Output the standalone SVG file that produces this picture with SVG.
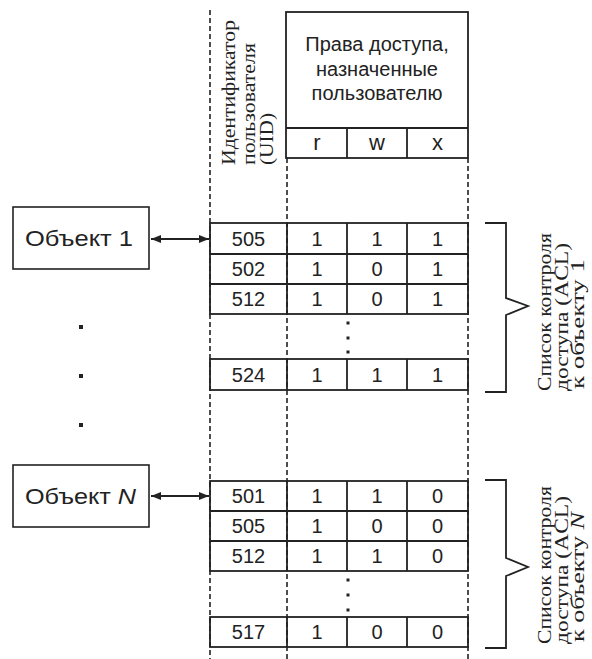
<svg xmlns="http://www.w3.org/2000/svg" width="592" height="659" viewBox="0 0 592 659">
<defs>
<style>
.ln{stroke:#222;stroke-width:1.8;fill:none}
.dash{stroke:#222;stroke-width:1.6;fill:none;stroke-dasharray:5 3}
.box{stroke:#222;stroke-width:1.6;fill:#fff}
.sans{font-family:"Liberation Sans",Arial,sans-serif;fill:#222}
.serif{font-family:"Liberation Serif","Times New Roman",serif;fill:#222;font-size:19px}
.num{font-family:"Liberation Sans",Arial,sans-serif;fill:#222;font-size:20px;text-anchor:middle}
.dot{fill:#222}
</style>
<marker id="ah" viewBox="0 0 10 8" refX="10" refY="4" markerWidth="10" markerHeight="8" markerUnits="userSpaceOnUse" orient="auto-start-reverse">
<path d="M0,0 L10,4 L0,8 z" fill="#222"/>
</marker>
</defs>
<rect width="592" height="659" fill="#fff"/>

<g id="guides">
<line class="dash" x1="210" y1="10" x2="210" y2="659"/>
<line class="dash" x1="287" y1="158" x2="287" y2="659"/>
<line class="dash" x1="468" y1="158" x2="468" y2="659"/>
</g>

<g id="uid-header">
<text class="serif" transform="translate(235,165) rotate(-90)" textLength="145" lengthAdjust="spacingAndGlyphs">Идентификатор</text>
<text class="serif" transform="translate(255,165) rotate(-90)" textLength="122" lengthAdjust="spacingAndGlyphs">пользователя</text>
<text class="serif" transform="translate(273,165) rotate(-90)" textLength="52" lengthAdjust="spacingAndGlyphs">(UID)</text>
</g>

<g id="rights-header">
<rect class="ln" x="286" y="12" width="182" height="146" fill="#fff"/>
<line class="ln" x1="286" y1="128" x2="468" y2="128"/>
<line class="ln" x1="347" y1="128" x2="347" y2="158"/>
<line class="ln" x1="407" y1="128" x2="407" y2="158"/>
<text class="sans" font-size="20" text-anchor="middle" x="377" y="51">Права доступа,</text>
<text class="sans" font-size="20" text-anchor="middle" x="377" y="76">назначенные</text>
<text class="sans" font-size="20" text-anchor="middle" x="377" y="100">пользователю</text>
<text class="sans" font-size="22" text-anchor="middle" x="317" y="150">r</text>
<text class="sans" font-size="22" text-anchor="middle" x="377" y="150">w</text>
<text class="sans" font-size="22" text-anchor="middle" x="437.5" y="150">x</text>
</g>

<g id="object1">
<rect class="box" x="13" y="207" width="136" height="62"/>
<text class="sans" font-size="22" x="25" y="246" textLength="108" lengthAdjust="spacingAndGlyphs">Объект 1</text>
</g>

<g id="objectN">
<rect class="box" x="13" y="465" width="136" height="62"/>
<text class="sans" font-size="22" x="25" y="504" textLength="111" lengthAdjust="spacingAndGlyphs">Объект <tspan font-style="italic">N</tspan></text>
</g>

<g id="acl1">
<rect class="ln" x="210" y="223" width="258" height="91" fill="#fff"/>
<line class="ln" x1="210" y1="254" x2="468" y2="254"/>
<line class="ln" x1="210" y1="284" x2="468" y2="284"/>
<line class="ln" x1="287" y1="223" x2="287" y2="314"/>
<line class="ln" x1="347" y1="223" x2="347" y2="314"/>
<line class="ln" x1="407" y1="223" x2="407" y2="314"/>
<text class="num" x="248.5" y="246">505</text><text class="num" x="317" y="246">1</text><text class="num" x="377" y="246">1</text><text class="num" x="437.5" y="246">1</text>
<text class="num" x="248.5" y="276">502</text><text class="num" x="317" y="276">1</text><text class="num" x="377" y="276">0</text><text class="num" x="437.5" y="276">1</text>
<text class="num" x="248.5" y="306">512</text><text class="num" x="317" y="306">1</text><text class="num" x="377" y="306">0</text><text class="num" x="437.5" y="306">1</text>
<rect class="dot" x="346.5" y="321.5" width="3" height="3"/>
<rect class="dot" x="346.5" y="336.5" width="3" height="3"/>
<rect class="dot" x="346.5" y="350.5" width="3" height="3"/>
<rect class="ln" x="210" y="359" width="258" height="31" fill="#fff"/>
<line class="ln" x1="287" y1="359" x2="287" y2="390"/>
<line class="ln" x1="347" y1="359" x2="347" y2="390"/>
<line class="ln" x1="407" y1="359" x2="407" y2="390"/>
<text class="num" x="248.5" y="382">524</text><text class="num" x="317" y="382">1</text><text class="num" x="377" y="382">1</text><text class="num" x="437.5" y="382">1</text>
</g>

<g id="aclN">
<rect class="ln" x="210" y="481" width="258" height="90" fill="#fff"/>
<line class="ln" x1="210" y1="511" x2="468" y2="511"/>
<line class="ln" x1="210" y1="541" x2="468" y2="541"/>
<line class="ln" x1="287" y1="481" x2="287" y2="571"/>
<line class="ln" x1="347" y1="481" x2="347" y2="571"/>
<line class="ln" x1="407" y1="481" x2="407" y2="571"/>
<text class="num" x="248.5" y="503">501</text><text class="num" x="317" y="503">1</text><text class="num" x="377" y="503">1</text><text class="num" x="437.5" y="503">0</text>
<text class="num" x="248.5" y="533">505</text><text class="num" x="317" y="533">1</text><text class="num" x="377" y="533">0</text><text class="num" x="437.5" y="533">0</text>
<text class="num" x="248.5" y="563">512</text><text class="num" x="317" y="563">1</text><text class="num" x="377" y="563">1</text><text class="num" x="437.5" y="563">0</text>
<rect class="dot" x="346.5" y="578.5" width="3" height="3"/>
<rect class="dot" x="346.5" y="593.5" width="3" height="3"/>
<rect class="dot" x="346.5" y="608.5" width="3" height="3"/>
<rect class="ln" x="210" y="617" width="258" height="30" fill="#fff"/>
<line class="ln" x1="287" y1="617" x2="287" y2="647"/>
<line class="ln" x1="347" y1="617" x2="347" y2="647"/>
<line class="ln" x1="407" y1="617" x2="407" y2="647"/>
<text class="num" x="248.5" y="639">517</text><text class="num" x="317" y="639">1</text><text class="num" x="377" y="639">0</text><text class="num" x="437.5" y="639">0</text>
</g>

<g id="ellipsis">
<rect class="dot" x="79" y="325" width="4" height="4"/>
<rect class="dot" x="79" y="374" width="4" height="4"/>
<rect class="dot" x="79" y="423" width="4" height="4"/>
</g>

<g id="brace1">
<path class="ln" d="M485,223 H506 V298 L528,306 L506,315 V392 H485"/>
<text class="serif" transform="translate(551,391) rotate(-90)" textLength="158" lengthAdjust="spacingAndGlyphs">Список контроля</text>
<text class="serif" transform="translate(568,391) rotate(-90)" textLength="148" lengthAdjust="spacingAndGlyphs">доступа (ACL)</text>
<text class="serif" transform="translate(584,389) rotate(-90)" textLength="130" lengthAdjust="spacingAndGlyphs">к объекту 1</text>
</g>

<g id="braceN">
<path class="ln" d="M485,480 H506 V558 L528,567 L506,576 V648 H485"/>
<text class="serif" transform="translate(551,644) rotate(-90)" textLength="158" lengthAdjust="spacingAndGlyphs">Список контроля</text>
<text class="serif" transform="translate(568,644) rotate(-90)" textLength="148" lengthAdjust="spacingAndGlyphs">доступа (ACL)</text>
<text class="serif" transform="translate(584,642) rotate(-90)" textLength="130" lengthAdjust="spacingAndGlyphs">к объекту <tspan font-style="italic">N</tspan></text>
</g>

<g id="connectors">
<line class="ln" x1="151" y1="239" x2="209" y2="239" stroke-width="1.6" marker-start="url(#ah)" marker-end="url(#ah)"/>
<line class="ln" x1="151" y1="496" x2="209" y2="496" stroke-width="1.6" marker-start="url(#ah)" marker-end="url(#ah)"/>
</g>
</svg>
